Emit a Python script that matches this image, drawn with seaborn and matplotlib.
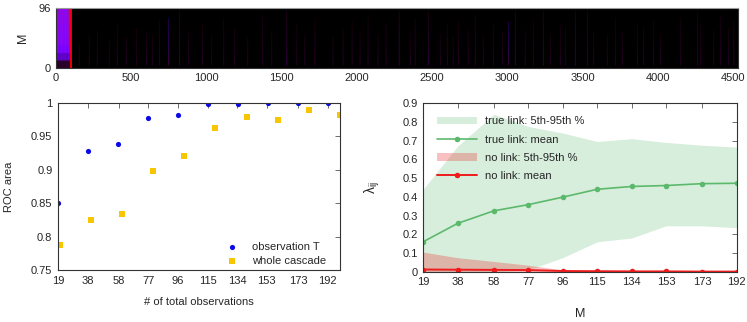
import numpy as np
import matplotlib
matplotlib.use('Agg')
import matplotlib.pyplot as plt
import seaborn as sns

################################################################################
# data

# top strip: time axis 0..4535, M rows 0..96
t_max = 4535
m_max = 96
split_t = 100
block_rows = [0.03, 0.14, 0.22, 0.26, 0.27, 0.28, 0.29, 0.30]          # bottom -> top
block_cols = [0.00, 0.01, 0.10, 0.00, -0.01, 0.02, 0.00, 0.12, 0.01, 0.00,
              0.02, 0.00, 0.09, 0.01, 0.00, -0.01, 0.11, 0.00, 0.02, 0.00]
streak_x = [155, 221, 275, 354, 407, 467, 534, 600, 640,
            687, 747, 820, 880, 973, 1033, 1113, 1186, 1273, 1372, 1432, 1532, 1599,
            1652, 1719, 1839, 1906, 1966, 2019, 2072, 2138, 2192, 2279, 2352, 2385, 2472, 2552, 2598,
            2637, 2671, 2737, 2784, 2837, 2904, 2964, 3004, 3050, 3116, 3170, 3236, 3283, 3349, 3383, 3449, 3529, 3569,
            3661, 3715, 3761, 3861, 3901, 3968, 4015, 4148, 4260, 4280, 4367, 4413, 4466, 4500]
streak_val = [0.03, 0.025, 0.03, 0.025, 0.03, 0.03, 0.025, 0.03, 0.025,
              0.03, 0.40, 0.05, 0.03, 0.03, 0.025, 0.03, 0.03, 0.03, 0.03, 0.03, 0.05, 0.03,
              0.03, 0.03, 0.025, 0.03, 0.03, 0.03, 0.03, 0.03, 0.03, 0.05, 0.03, 0.03, 0.045, 0.03, 0.03,
              0.03, 0.03, 0.03, 0.035, 0.03, 0.03, 0.03, 0.40, 0.05, 0.03, 0.03, 0.05, 0.03, 0.03, 0.03, 0.05, 0.045, 0.03,
              0.03, 0.03, 0.03, 0.03, 0.035, 0.03, 0.03, 0.03, 0.035, 0.03, 0.03, 0.03, 0.03, 0.03]
streak_top = [40, 55, 60, 45, 70, 50, 65, 60, 55,
              75, 80, 92, 60, 70, 55, 80, 65, 50, 85, 60, 92, 70,
              55, 80, 50, 65, 75, 60, 85, 55, 70, 92, 60, 80, 92, 55, 70,
              50, 75, 60, 85, 55, 70, 60, 75, 92, 60, 80, 92, 55, 70, 65, 92, 92, 60,
              55, 80, 60, 70, 65, 75, 55, 80, 92, 70, 60, 85, 65, 75]

# ROC area vs number of observations
obs_ticks = [19, 38, 58, 77, 96, 115, 134, 153, 173, 192]
obs_T = [19.2, 38.4, 57.6, 76.8, 96, 115.2, 134.4, 153.6, 172.8, 192]
roc_T = [0.851, 0.928, 0.938, 0.977, 0.982, 0.998, 0.999, 0.9995, 1.0, 1.0]
obs_whole = [20, 40, 60, 80, 100, 120, 140, 160, 180, 200]
roc_whole = [0.787, 0.825, 0.834, 0.898, 0.921, 0.962, 0.979, 0.975, 0.990, 0.982]

# lambda_ij vs M
M_vals = [19, 38, 58, 77, 96, 115, 134, 153, 173, 192]
true_mean = [0.160, 0.258, 0.325, 0.358, 0.398, 0.440, 0.455, 0.460, 0.470, 0.472]
true_lo = [0.0, 0.0, 0.0, 0.01, 0.075, 0.160, 0.180, 0.245, 0.245, 0.235]
true_hi = [0.44, 0.67, 0.84, 0.775, 0.74, 0.695, 0.71, 0.69, 0.675, 0.665]
no_mean = [0.012, 0.011, 0.010, 0.009, 0.004, 0.003, 0.002, 0.002, 0.001, 0.001]
no_lo = [0.0] * 10
no_hi = [0.105, 0.075, 0.055, 0.035, 0.010, 0.005, 0.004, 0.003, 0.002, 0.002]

################################################################################

sns.set_style('white')
plt.rcParams['font.family'] = ['Liberation Sans', 'DejaVu Sans']
plt.rcParams['font.size'] = 8
plt.rcParams['mathtext.fontset'] = 'custom'
plt.rcParams['mathtext.rm'] = 'Liberation Sans'

fig = plt.figure(figsize=(7.47, 3.22), dpi=100)
ax_top = fig.add_axes([0.075, 0.789, 0.913, 0.186])
ax_roc = fig.add_axes([0.0776, 0.161, 0.3776, 0.519])
ax_lam = fig.add_axes([0.5665, 0.156, 0.4197, 0.524])


def style_axes(ax):
    for sp in ax.spines.values():
        sp.set_color('#333333')
        sp.set_linewidth(0.8)
    ax.tick_params(direction='in', length=3.5, width=0.6, color='#555555',
                   top=True, right=True, labelsize=8, pad=4)


# top strip
img = np.zeros((m_max, t_max))
for j, rv in enumerate(block_rows):
    for i, cv in enumerate(block_cols):
        img[j * 12:(j + 1) * 12, i * 5:(i + 1) * 5] = rv + cv * min(j, 3) / 3
for x, v, h in zip(streak_x, streak_val, streak_top):
    w = 2 if v > 0.2 else 6
    # streaks fade out towards the top
    fade = np.linspace(1.0, 0.3, h - 4)[:, None]
    img[4:h, x - w // 2:x - w // 2 + w] = v * fade

ax_top.imshow(img, origin='lower', aspect='auto', cmap='gnuplot', vmin=0, vmax=1,
              extent=(0, t_max, 0, m_max), interpolation='antialiased')
ax_top.axvline(split_t, color='red', lw=1.3)
ax_top.set_xlim(0, t_max)
ax_top.set_ylim(0, m_max)
ax_top.set_xticks(range(0, 4501, 500))
ax_top.set_yticks([0, 96])
style_axes(ax_top)
ax_top.tick_params(top=False, right=False, length=0)
ax_top.spines['top'].set_color('#999999')
ax_top.set_ylabel('M', fontsize=9)
ax_top.yaxis.set_label_coords(-0.04, 0.5)

# ROC area
sns.scatterplot(x=obs_T, y=roc_T, color='#0a0ae6', marker='o', s=14, linewidth=0,
                label='observation T', ax=ax_roc)
sns.scatterplot(x=obs_whole, y=roc_whole, color='#f7c600', marker='s', s=14, linewidth=0,
                label='whole cascade', ax=ax_roc)
ax_roc.set_xlim(19, 200)
ax_roc.set_ylim(0.75, 1.0)
ax_roc.set_xticks(obs_ticks)
ax_roc.set_yticks([0.75, 0.8, 0.85, 0.9, 0.95, 1.0])
ax_roc.set_yticklabels(['0.75', '0.8', '0.85', '0.9', '0.95', '1'])
style_axes(ax_roc)
ax_roc.set_xlabel('# of total observations', fontsize=8)
ax_roc.set_ylabel('ROC area', fontsize=8)
ax_roc.xaxis.set_label_coords(0.5, -0.16)
ax_roc.yaxis.set_label_coords(-0.155, 0.5)
ax_roc.legend(loc='lower right', bbox_to_anchor=(0.965, 0.0), frameon=False, fontsize=8,
              handletextpad=1.2, borderaxespad=0.0, labelspacing=0.35, handlelength=1.2)

# lambda_ij
ax_lam.fill_between(M_vals, true_lo, true_hi, color='#d7eedc', lw=0,
                    label='true link: 5th-95th %')
sns.lineplot(x=M_vals, y=true_mean, color='#5cb96c', marker='o', markersize=4,
             markeredgewidth=0, lw=1.2, label='true link: mean', ax=ax_lam)
ax_lam.fill_between(M_vals, no_lo, no_hi, color='#e83030', alpha=0.3, lw=0,
                    label='no link: 5th-95th %')
sns.lineplot(x=M_vals, y=no_mean, color='#ee1c1c', marker='o', markersize=4,
             markeredgewidth=0, lw=1.4, label='no link: mean', ax=ax_lam)
ax_lam.set_xlim(19, 192)
ax_lam.set_ylim(0, 0.9)
ax_lam.set_xticks(M_vals)
ax_lam.set_yticks(np.arange(0, 0.91, 0.1))
ax_lam.set_yticklabels(['0', '0.1', '0.2', '0.3', '0.4', '0.5', '0.6', '0.7', '0.8', '0.9'])
style_axes(ax_lam)
ax_lam.set_xlabel('M', fontsize=9)
ax_lam.set_ylabel(r'$\mathregular{\lambda_{ij}}$', fontsize=10)
ax_lam.xaxis.set_label_coords(0.5, -0.215)
ax_lam.yaxis.set_label_coords(-0.13, 0.5)
ax_lam.legend(loc='upper left', frameon=False, fontsize=8, handlelength=3.6,
              handletextpad=0.8, labelspacing=0.75, borderaxespad=0.8)

fig.savefig('out.png', dpi=100)
